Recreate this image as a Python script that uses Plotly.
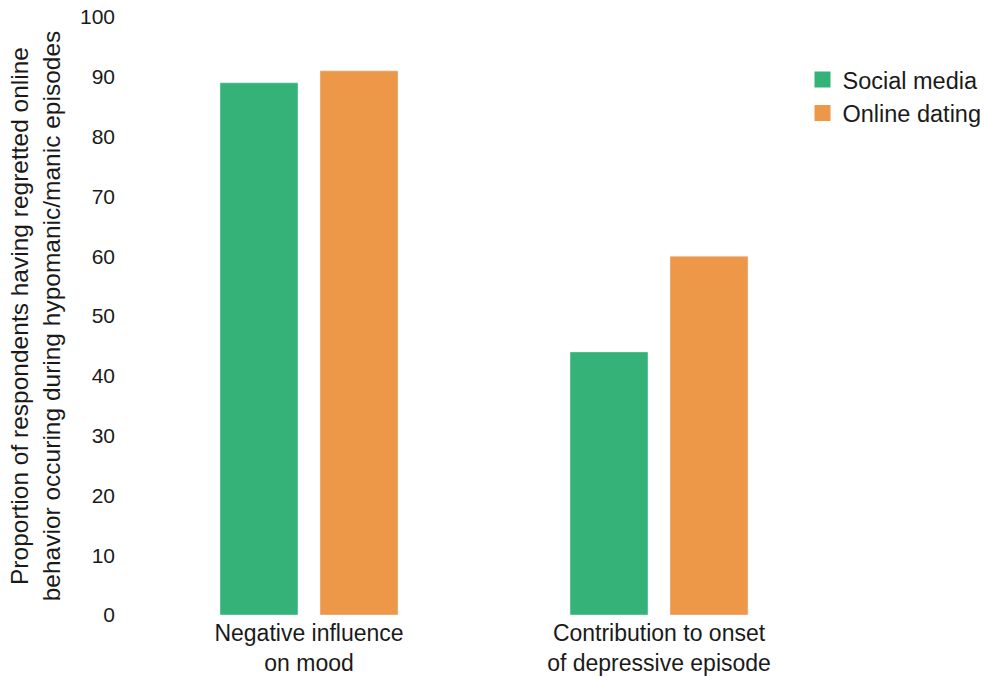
import plotly.graph_objects as go

# Survey results: share of respondents reporting each consequence
categories = ["Negative influence<br>on mood", "Contribution to onset<br>of depressive episode"]
social_media = [89, 44]
online_dating = [91, 60]
y_ticks = [0, 10, 20, 30, 40, 50, 60, 70, 80, 90, 100]

GREEN = "rgb(52,178,120)"
ORANGE = "rgb(237,151,72)"
FONT = "Liberation Sans, Arial, sans-serif"

fig = go.Figure()
fig.add_trace(go.Bar(x=categories, y=social_media, name="Social media",
                     marker=dict(color=GREEN), showlegend=False))
fig.add_trace(go.Bar(x=categories, y=online_dating, name="Online dating",
                     marker=dict(color=ORANGE), showlegend=False))

# Legend entries with larger square swatches
for name, color in [("Social media", GREEN), ("Online dating", ORANGE)]:
    fig.add_trace(go.Scatter(x=[None], y=[None], mode="markers", name=name,
                             marker=dict(symbol="square", size=16, color=color)))

fig.update_layout(
    width=984, height=677,
    margin=dict(l=134, r=150, t=17, b=62, autoexpand=False),
    paper_bgcolor="white", plot_bgcolor="white",
    font=dict(family=FONT, size=20, color="#1a1a1a"),
    barmode="group", bargap=0.4286, bargroupgap=0.22,
    legend=dict(x=0.955, xanchor="left", y=0.932, yanchor="top",
                font=dict(size=23.5, family=FONT), itemwidth=30,
                tracegroupgap=0, bgcolor="rgba(0,0,0,0)"),
    xaxis=dict(showgrid=False, showline=False, zeroline=False, automargin=False,
               range=[-0.5, 1.5],
               tickfont=dict(size=23), ticklabelstandoff=2),
    yaxis=dict(range=[0, 100], tickvals=y_ticks, showgrid=False, automargin=False,
               showline=False, zeroline=False, tickfont=dict(size=21),
               ticklabelstandoff=18,
               title=dict(text="Proportion of respondents having regretted online<br>"
                               "behavior occuring during hypomanic/manic episodes",
                          font=dict(size=24.5), standoff=12)),
)

fig.write_html("out.html")
